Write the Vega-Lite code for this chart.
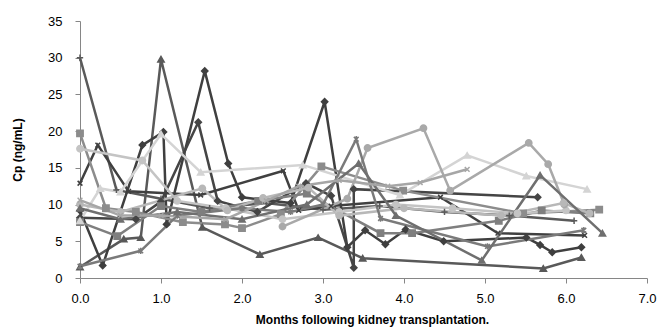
{
  "$schema": "https://vega.github.io/schema/vega-lite/v6.json",
  "width": 567,
  "height": 257,
  "autosize": "none",
  "padding": {"left": 80, "top": 21, "right": 13, "bottom": 55},
  "background": "white",
  "config": {
    "view": {"stroke": null},
    "font": "Liberation Sans",
    "axis": {"grid": false, "domainColor": "#868686", "tickColor": "#868686", "labelColor": "#000000", "labelFont": "Liberation Sans", "labelFontSize": 13, "titleFont": "Liberation Sans", "titleFontWeight": "bold", "titleFontSize": 12, "titleColor": "#000000", "tickSize": 5}
  },
  "data": {"values": [
    {"s":"P1","i":0,"x":0,"y":30},{"s":"P1","i":1,"x":0.45,"y":12},{"s":"P1","i":2,"x":1.0,"y":10.8},{"s":"P1","i":3,"x":1.6,"y":9.5},{"s":"P1","i":4,"x":2.3,"y":10.2},{"s":"P1","i":5,"x":3.0,"y":9.3},{"s":"P1","i":6,"x":3.7,"y":9.8},{"s":"P1","i":7,"x":4.5,"y":9},{"s":"P1","i":8,"x":5.3,"y":8.5},{"s":"P1","i":9,"x":6.1,"y":7.8},
    {"s":"T1","i":0,"x":0,"y":1.5},{"s":"T1","i":1,"x":0.54,"y":5.3},{"s":"T1","i":2,"x":0.75,"y":5.5},{"s":"T1","i":3,"x":1.0,"y":29.8},{"s":"T1","i":4,"x":1.51,"y":6.9},{"s":"T1","i":5,"x":2.22,"y":3.2},{"s":"T1","i":6,"x":2.94,"y":5.5},{"s":"T1","i":7,"x":3.49,"y":2.7},{"s":"T1","i":8,"x":5.72,"y":1.3},{"s":"T1","i":9,"x":6.19,"y":2.8},
    {"s":"D1","i":0,"x":0,"y":9.2},{"s":"D1","i":1,"x":0.28,"y":1.7},{"s":"D1","i":2,"x":0.77,"y":18.1},{"s":"D1","i":3,"x":1.03,"y":19.9},{"s":"D1","i":4,"x":1.07,"y":7.3},{"s":"D1","i":5,"x":1.54,"y":28.2},{"s":"D1","i":6,"x":1.83,"y":15.6},{"s":"D1","i":7,"x":2.0,"y":11.0},{"s":"D1","i":8,"x":2.6,"y":10.2},{"s":"D1","i":9,"x":3.02,"y":24},{"s":"D1","i":10,"x":3.3,"y":4.2},{"s":"D1","i":11,"x":3.52,"y":6.5},{"s":"D1","i":12,"x":3.77,"y":4.6},{"s":"D1","i":13,"x":4.02,"y":6.6},{"s":"D1","i":14,"x":4.49,"y":5.0},{"s":"D1","i":15,"x":5.51,"y":5.5},{"s":"D1","i":16,"x":5.68,"y":4.5},{"s":"D1","i":17,"x":5.83,"y":3.5},{"s":"D1","i":18,"x":6.19,"y":4.2},
    {"s":"D2","i":0,"x":0,"y":8.2},{"s":"D2","i":1,"x":0.69,"y":8.0},{"s":"D2","i":2,"x":1.0,"y":10.4},{"s":"D2","i":3,"x":1.46,"y":21.2},{"s":"D2","i":4,"x":1.7,"y":10.5},{"s":"D2","i":5,"x":2.19,"y":9.0},{"s":"D2","i":6,"x":2.79,"y":12.9},{"s":"D2","i":7,"x":3.1,"y":11.2},{"s":"D2","i":8,"x":3.38,"y":1.4},{"s":"D2","i":9,"x":3.38,"y":12.1},{"s":"D2","i":10,"x":5.65,"y":11.0},
    {"s":"X1","i":0,"x":0,"y":12.9},{"s":"X1","i":1,"x":0.22,"y":18.1},{"s":"X1","i":2,"x":0.6,"y":11.8},{"s":"X1","i":3,"x":1.49,"y":11.3},{"s":"X1","i":4,"x":2.51,"y":14.6},{"s":"X1","i":5,"x":2.7,"y":9.2},{"s":"X1","i":6,"x":3.1,"y":9.8},{"s":"X1","i":7,"x":4.45,"y":11.0},{"s":"X1","i":8,"x":5.16,"y":6.1},{"s":"X1","i":9,"x":6.23,"y":5.8},
    {"s":"S1","i":0,"x":0,"y":19.7},{"s":"S1","i":1,"x":0.32,"y":9.5},{"s":"S1","i":2,"x":0.69,"y":9.0},{"s":"S1","i":3,"x":1.27,"y":7.6},{"s":"S1","i":4,"x":1.79,"y":7.3},{"s":"S1","i":5,"x":2.0,"y":6.8},{"s":"S1","i":6,"x":2.48,"y":8.7},{"s":"S1","i":7,"x":2.98,"y":15.2},{"s":"S1","i":8,"x":3.99,"y":11.9},{"s":"S1","i":9,"x":5.47,"y":8.8},{"s":"S1","i":10,"x":6.41,"y":9.3},
    {"s":"S2","i":0,"x":0,"y":7.6},{"s":"S2","i":1,"x":0.46,"y":5.7},{"s":"S2","i":2,"x":1.0,"y":9.8},{"s":"S2","i":3,"x":1.5,"y":9.0},{"s":"S2","i":4,"x":2.2,"y":10.5},{"s":"S2","i":5,"x":2.8,"y":11.5},{"s":"S2","i":6,"x":3.71,"y":6.1},{"s":"S2","i":7,"x":4.1,"y":6.1},{"s":"S2","i":8,"x":5.17,"y":7.8},{"s":"S2","i":9,"x":5.7,"y":9.2},{"s":"S2","i":10,"x":6.3,"y":8.8},
    {"s":"L1","i":0,"x":0,"y":7.8},{"s":"L1","i":1,"x":0.25,"y":12.2},{"s":"L1","i":2,"x":0.5,"y":11.7},{"s":"L1","i":3,"x":1.0,"y":19.6},{"s":"L1","i":4,"x":1.49,"y":14.4},{"s":"L1","i":5,"x":2.75,"y":15.4},{"s":"L1","i":6,"x":3.95,"y":11.3},{"s":"L1","i":7,"x":4.78,"y":16.7},{"s":"L1","i":8,"x":5.51,"y":13.9},{"s":"L1","i":9,"x":6.26,"y":12.1},
    {"s":"G1","i":0,"x":0,"y":17.6},{"s":"G1","i":1,"x":0.77,"y":16},{"s":"G1","i":2,"x":1.2,"y":10.5},{"s":"G1","i":3,"x":1.8,"y":9.5},{"s":"G1","i":4,"x":2.5,"y":8},{"s":"G1","i":5,"x":3.2,"y":9},{"s":"G1","i":6,"x":3.9,"y":10},{"s":"G1","i":7,"x":4.6,"y":9.5},{"s":"G1","i":8,"x":5.4,"y":8.8},{"s":"G1","i":9,"x":6.0,"y":9.2},
    {"s":"C1","i":0,"x":2.5,"y":7},{"s":"C1","i":1,"x":3.3,"y":10.8},{"s":"C1","i":2,"x":3.55,"y":17.7},{"s":"C1","i":3,"x":4.24,"y":20.4},{"s":"C1","i":4,"x":4.57,"y":11.9},{"s":"C1","i":5,"x":5.54,"y":18.4},{"s":"C1","i":6,"x":5.78,"y":15.5},{"s":"C1","i":7,"x":5.98,"y":10.0},
    {"s":"C2","i":0,"x":0,"y":10},{"s":"C2","i":1,"x":0.5,"y":9},{"s":"C2","i":2,"x":1.51,"y":12.2},{"s":"C2","i":3,"x":1.82,"y":9.2},{"s":"C2","i":4,"x":2.26,"y":10.9},{"s":"C2","i":5,"x":2.82,"y":12.3},{"s":"C2","i":6,"x":3.2,"y":8.5},{"s":"C2","i":7,"x":4.0,"y":9.5},{"s":"C2","i":8,"x":5.2,"y":8.5},{"s":"C2","i":9,"x":5.97,"y":10.2},{"s":"C2","i":10,"x":6.29,"y":8.8},
    {"s":"A1","i":0,"x":0,"y":1.6},{"s":"A1","i":1,"x":0.75,"y":3.7},{"s":"A1","i":2,"x":1.2,"y":8.5},{"s":"A1","i":3,"x":2.0,"y":9.5},{"s":"A1","i":4,"x":2.6,"y":9},{"s":"A1","i":5,"x":3.0,"y":10},{"s":"A1","i":6,"x":3.41,"y":18.9},{"s":"A1","i":7,"x":3.71,"y":8.1},{"s":"A1","i":8,"x":5.03,"y":4.3},{"s":"A1","i":9,"x":6.22,"y":6.5},
    {"s":"T2","i":0,"x":0,"y":9.5},{"s":"T2","i":1,"x":0.5,"y":8},{"s":"T2","i":2,"x":1.2,"y":9},{"s":"T2","i":3,"x":2.0,"y":8},{"s":"T2","i":4,"x":2.8,"y":10},{"s":"T2","i":5,"x":3.44,"y":15.6},{"s":"T2","i":6,"x":3.9,"y":8.5},{"s":"T2","i":7,"x":4.96,"y":2.4},{"s":"T2","i":8,"x":5.68,"y":14},{"s":"T2","i":9,"x":6.45,"y":6.1},
    {"s":"X2","i":0,"x":0,"y":10.6},{"s":"X2","i":1,"x":0.5,"y":8.5},{"s":"X2","i":2,"x":1.0,"y":8.5},{"s":"X2","i":3,"x":1.8,"y":8.0},{"s":"X2","i":4,"x":2.3,"y":10.5},{"s":"X2","i":5,"x":2.7,"y":12.5},{"s":"X2","i":6,"x":3.2,"y":13.3},{"s":"X2","i":7,"x":3.8,"y":12.5},{"s":"X2","i":8,"x":4.2,"y":13},{"s":"X2","i":9,"x":4.78,"y":14.8}
  ]},
  "encoding": {
    "x": {"field": "x", "type": "quantitative", "scale": {"domain": [0, 7], "nice": false, "zero": false},
      "axis": {"values": [0,1,2,3,4,5,6,7], "format": ".1f", "labelPadding": 9, "title": "Months following  kidney transplantation.", "titlePadding": 9, "titleX": 292, "labelFlush": false}},
    "y": {"field": "y", "type": "quantitative", "scale": {"domain": [0, 35], "nice": false},
      "axis": {"values": [0,5,10,15,20,25,30,35], "labelPadding": 13, "title": "Cp (ng/mL)", "titlePadding": 23}}
  },
  "layer": [
    {
      "mark": {"type": "line", "strokeWidth": 2.5},
      "encoding": {
        "detail": {"field": "s"},
        "order": {"field": "i", "type": "quantitative"},
        "stroke": {"field": "s", "type": "nominal", "legend": null,
          "scale": {"domain": ["P1","T1","D1","D2","X1","S1","S2","L1","G1","C1","C2","A1","T2","X2"],
                    "range": ["#5a5a5a","#595959","#3f3f3f","#454545","#404040","#8c8c8c","#7f7f7f","#d4d4d4","#c4c4c4","#a9a9a9","#b8b8b8","#7a7a7a","#6f6f6f","#a6a6a6"]}}
      }
    },
    {
      "mark": {"type": "point", "filled": true, "size": 40, "strokeWidth": 1.5, "opacity": 1},
      "encoding": {
        "fill": {"field": "s", "type": "nominal", "legend": null,
          "scale": {"domain": ["P1","T1","D1","D2","X1","S1","S2","L1","G1","C1","C2","A1","T2","X2"],
                    "range": ["#5a5a5a","#595959","#3f3f3f","#454545","#404040","#8c8c8c","#7f7f7f","#d4d4d4","#c4c4c4","#a9a9a9","#b8b8b8","#7a7a7a","#6f6f6f","#a6a6a6"]}},
        "stroke": {"field": "s", "type": "nominal", "legend": null,
          "scale": {"domain": ["P1","T1","D1","D2","X1","S1","S2","L1","G1","C1","C2","A1","T2","X2"],
                    "range": ["#5a5a5a","#595959","#3f3f3f","#454545","#404040","#8c8c8c","#7f7f7f","#d4d4d4","#c4c4c4","#a9a9a9","#b8b8b8","#7a7a7a","#6f6f6f","#a6a6a6"]}},
        "shape": {"field": "s", "type": "nominal", "legend": null,
          "scale": {"domain": ["P1","T1","D1","D2","X1","S1","S2","L1","G1","C1","C2","A1","T2","X2"],
                    "range": ["M-1,0L1,0M0,-1L0,1","triangle-up","diamond","diamond","M-0.75,-0.75L0.75,0.75M-0.75,0.75L0.75,-0.75","square","square","triangle-up","circle","circle","circle","M-0.75,-0.75L0.75,0.75M-0.75,0.75L0.75,-0.75M0,-1L0,1","triangle-up","M-0.75,-0.75L0.75,0.75M-0.75,0.75L0.75,-0.75"]}}
      }
    }
  ]
}
